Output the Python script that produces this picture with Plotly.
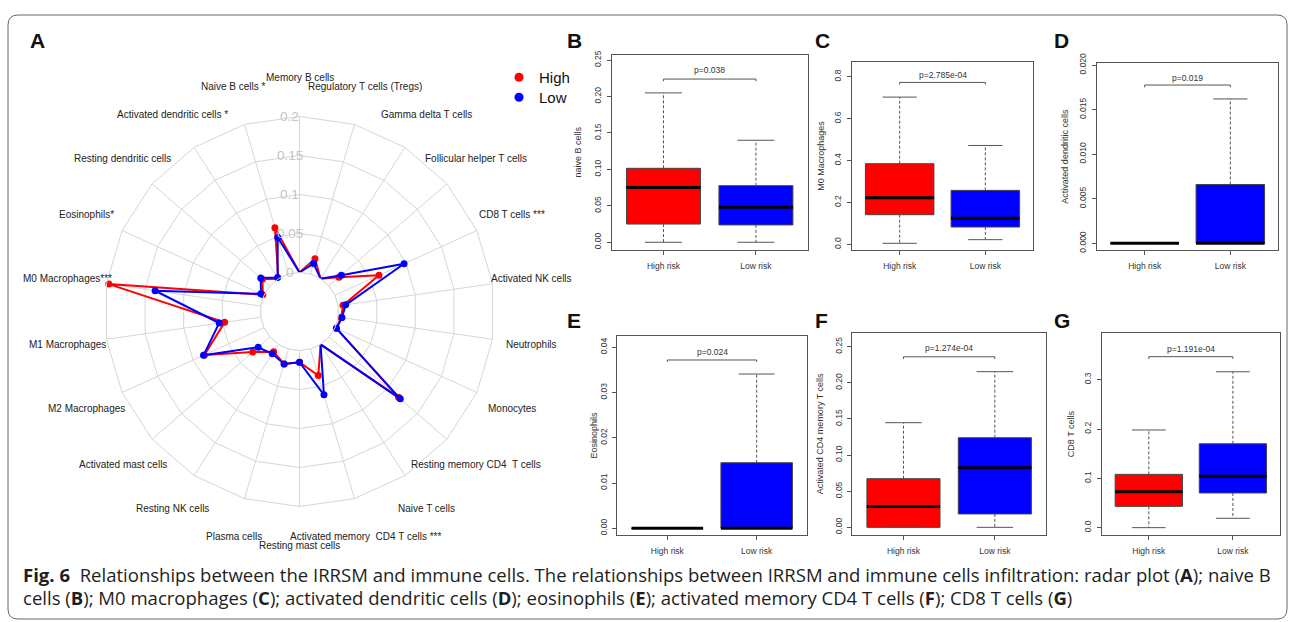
import math
import plotly.graph_objects as go

W, H = 1296, 622

# ---------------- data: radar (clockwise from top) ----------------
radar_categories = [
    "Memory B cells", "Regulatory T cells (Tregs)", "Gamma delta T cells",
    "Follicular helper T cells", "CD8 T cells ***", "Activated NK cells",
    "Neutrophils", "Monocytes", "Resting memory CD4\u00a0 T cells", "Naive T cells",
    "Activated memory\u00a0 CD4 T cells ***", "Resting mast cells", "Plasma cells",
    "Resting NK cells", "Activated mast cells", "M2 Macrophages", "M1 Macrophages",
    "M0 Macrophages***", "Eosinophils*", "Resting dendritic cells",
    "Activated dendritic cells *", "Naive B cells *",
]
radar_high = [0.0, 0.0205, 0.0, 0.017, 0.062, 0.0064, 0.004, 0.002, 0.118, 0.0,
              0.0355, 0.015, 0.020, 0.0114, 0.0293, 0.084, 0.047, 0.197, 0.0016,
              0.013, 0.0, 0.062]
radar_low = [0.0, 0.014, 0.0, 0.021, 0.0974, 0.0098, 0.005, 0.002, 0.121, 0.0,
             0.0613, 0.015, 0.020, 0.0145, 0.020, 0.0853, 0.054, 0.137, 0.0044,
             0.0157, 0.002, 0.049]
radar_ticks = [0, 0.05, 0.1, 0.15, 0.2]
radar_tick_text = ["0", "0.05", "0.1", "0.15", "0.2"]

# ---------------- data: box plots [min, q1, median, q3, max] ----------------
groups = ["High risk", "Low risk"]
group_pos = [1, 2]

naive_b_high = [0.0, 0.025, 0.075, 0.1015, 0.205]
naive_b_low = [0.0, 0.0238, 0.048, 0.0777, 0.140]
m0_high = [0.005, 0.1416, 0.2227, 0.385, 0.703]
m0_low = [0.0223, 0.0827, 0.124, 0.2577, 0.472]
adc_high = [0.0, 0.0, 0.0, 0.0, 0.0]
adc_low = [0.0, 0.0, 0.0, 0.0066, 0.0162]
eos_high = [0.0, 0.0, 0.0, 0.0, 0.0]
eos_low = [0.0, 0.0, 0.0, 0.0145, 0.0341]
cd4_high = [0.0, 0.0, 0.029, 0.0673, 0.1448]
cd4_low = [0.0, 0.0185, 0.0826, 0.124, 0.2154]
cd8_high = [0.0, 0.0432, 0.073, 0.108, 0.198]
cd8_low = [0.019, 0.0703, 0.104, 0.170, 0.316]

p_texts = ["p=0.038", "p=2.785e-04", "p=0.019", "p=0.024", "p=1.274e-04", "p=1.191e-04"]
# bracket: [tick end, bar, text]
brackets = [
    [0.221, 0.224, 0.236],
    [0.763, 0.773, 0.808],
    [0.0175, 0.01776, 0.01858],
    [0.0368, 0.0372, 0.0389],
    [0.233, 0.236, 0.2477],
    [0.342, 0.3466, 0.363],
]
y_titles = ["naive B cells", "M0 Macrophages", "Activated dendritic cells",
            "Eosinophils", "Activated CD4 memory T cells", "CD8 T cells"]
y_ranges = [[-0.0106, 0.257], [-0.027, 0.872], [-0.00075, 0.0202],
            [-0.00147, 0.0425], [-0.0106, 0.2685], [-0.0149, 0.394]]
y_tickvals = [[0, 0.05, 0.10, 0.15, 0.20, 0.25], [0, 0.2, 0.4, 0.6, 0.8],
              [0, 0.005, 0.010, 0.015, 0.020], [0, 0.01, 0.02, 0.03, 0.04],
              [0, 0.05, 0.10, 0.15, 0.20, 0.25], [0, 0.1, 0.2, 0.3]]
y_ticktext = [["0.00", "0.05", "0.10", "0.15", "0.20", "0.25"],
              ["0.0", "0.2", "0.4", "0.6", "0.8"],
              ["0.000", "0.005", "0.010", "0.015", "0.020"],
              ["0.00", "0.01", "0.02", "0.03", "0.04"],
              ["0.00", "0.05", "0.10", "0.15", "0.20", "0.25"],
              ["0.0", "0.1", "0.2", "0.3"]]
panel_letters = ["B", "C", "D", "E", "F", "G"]

# ---------------- layout geometry (pixels) ----------------
frames_px = [  # left, right, top, bottom
    (611.7, 807.7, 55, 250),
    (851.7, 1033.3, 61.7, 250),
    (1096.7, 1278.3, 63.3, 250),
    (617.3, 806.7, 336, 535),
    (852.3, 1046, 333.3, 535),
    (1101.7, 1280, 333.3, 535),
]
ytitle_x_px = [578, 821, 1065, 593, 820, 1071]
letter_px = [(565, 40), (813, 40), (1052, 40), (565, 320), (813, 320), (1052, 320)]

RED = "#ff0000"
BLUE = "#0000ff"
FONT = "Liberation Sans, Arial, sans-serif"
GRID = "#d6d6d6"

fig = go.Figure()

# ---------------- radar ----------------
cx, cy, R, hole = 299.5, 311.5, 195.0, 0.2
label_factor = 1.2

# inner (zero) ring of the radar grid
fig.add_trace(go.Scatterpolar(
    r=[radar_ticks[0]] * (len(radar_categories) + 1),
    theta=radar_categories + radar_categories[:1], mode="lines",
    line=dict(color=GRID, width=1), showlegend=False, hoverinfo="skip", subplot="polar"))

for vals, col in [(radar_high, RED), (radar_low, BLUE)]:
    fig.add_trace(go.Scatterpolar(
        r=vals + vals[:1], theta=radar_categories + radar_categories[:1],
        mode="lines+markers", line=dict(color=col, width=2),
        marker=dict(color=col, size=7), showlegend=False, hoverinfo="skip",
        subplot="polar"))

# legend entries
for col, name, lg in [(RED, "High", "legend"), (BLUE, "Low", "legend2")]:
    fig.add_trace(go.Scatter(x=[None], y=[None], mode="markers", name=name, legend=lg,
                             marker=dict(color=col, size=9), xaxis="x", yaxis="y"))

annotations = []
shapes = []

n = len(radar_categories)
for k, lab in enumerate(radar_categories):
    ang = 2 * math.pi * k / n
    annotations.append(dict(
        x=(cx + label_factor * R * math.sin(ang)) / W,
        y=1 - (cy - label_factor * R * math.cos(ang)) / H,
        xref="paper", yref="paper", text=lab, showarrow=False,
        xanchor="center", yanchor="middle",
        font=dict(family=FONT, size=10, color="#222")))

for v, t in zip(radar_ticks, radar_tick_text):
    rpx = R * (hole + (1 - hole) * v / radar_ticks[-1])
    annotations.append(dict(
        x=(cx - 0.05 * R) / W, y=1 - (cy - rpx) / H, xref="paper", yref="paper",
        text=t, showarrow=False, xanchor="center", yanchor="middle",
        font=dict(family=FONT, size=13.5, color="#c4c4c4")))

# ---------------- box plots ----------------
stats = [(naive_b_high, naive_b_low), (m0_high, m0_low), (adc_high, adc_low),
         (eos_high, eos_low), (cd4_high, cd4_low), (cd8_high, cd8_low)]

layout_axes = {}
for i, (hi, lo) in enumerate(stats):
    k = "" if i == 0 else str(i + 1)
    xa, ya = "x" + k, "y" + k
    for pos, s, col in [(group_pos[0], hi, RED), (group_pos[1], lo, BLUE)]:
        mn, q1, med, q3, mx = s
        fig.add_trace(go.Box(
            x=[pos], q1=[q1], median=[med], q3=[q3], lowerfence=[q1], upperfence=[q3],
            width=0.8, fillcolor=col, line=dict(color="#444", width=1),
            whiskerwidth=0, boxpoints=False, showlegend=False, hoverinfo="skip",
            xaxis=xa, yaxis=ya))
        fig.add_trace(go.Scatter(
            x=[pos, pos, None, pos, pos], y=[q3, mx, None, q1, mn], mode="lines",
            line=dict(color="#555", width=1, dash="3px,2px"), showlegend=False,
            hoverinfo="skip", xaxis=xa, yaxis=ya))
        fig.add_trace(go.Scatter(
            x=[pos - 0.2, pos + 0.2, None, pos - 0.2, pos + 0.2],
            y=[mx, mx, None, mn, mn], mode="lines",
            line=dict(color="#555", width=1), showlegend=False,
            hoverinfo="skip", xaxis=xa, yaxis=ya))
        fig.add_trace(go.Scatter(
            x=[pos - 0.4, pos + 0.4], y=[med, med], mode="lines",
            line=dict(color="#000", width=3), showlegend=False,
            hoverinfo="skip", xaxis=xa, yaxis=ya))
    tk, bar, ty = brackets[i]
    fig.add_trace(go.Scatter(
        x=[group_pos[0], group_pos[0], group_pos[1], group_pos[1]], y=[tk, bar, bar, tk],
        mode="lines", line=dict(color="#555", width=1), showlegend=False,
        hoverinfo="skip", xaxis=xa, yaxis=ya))
    annotations.append(dict(x=sum(group_pos) / 2, y=ty, xref=xa, yref=ya, text=p_texts[i],
                            showarrow=False, xanchor="center", yanchor="middle",
                            font=dict(family=FONT, size=8.5, color="#333")))

    l, r_, t, b = frames_px[i]
    common = dict(showline=True, mirror=True, linecolor="#555", linewidth=1,
                  showgrid=False, zeroline=False, ticks="outside", ticklen=4,
                  tickcolor="#555", automargin=False,
                  tickfont=dict(family=FONT, size=8.5, color="#333"))
    layout_axes["xaxis" + k] = dict(domain=[l / W, r_ / W], range=[0.44, 2.56],
                                    tickvals=group_pos, ticktext=groups, anchor=ya,
                                    ticklabelstandoff=4, **common)
    layout_axes["yaxis" + k] = dict(domain=[1 - b / H, 1 - t / H], range=y_ranges[i],
                                    tickvals=y_tickvals[i], ticktext=y_ticktext[i],
                                    tickangle=-90, anchor=xa, ticklabelstandoff=2, **common)
    annotations.append(dict(x=ytitle_x_px[i] / W, y=1 - (t + b) / 2 / H, xref="paper",
                            yref="paper", text=y_titles[i], textangle=-90, showarrow=False,
                            xanchor="center", yanchor="middle",
                            font=dict(family=FONT, size=9, color="#333")))
    lx, ly = letter_px[i]
    annotations.append(dict(x=lx / W, y=1 - ly / H, xref="paper", yref="paper",
                            text="<b>%s</b>" % panel_letters[i], showarrow=False,
                            xanchor="left", yanchor="middle",
                            font=dict(family=FONT, size=21, color="#111")))

annotations.append(dict(x=28 / W, y=1 - 40 / H, xref="paper", yref="paper", text="<b>A</b>",
                        showarrow=False, xanchor="left", yanchor="middle",
                        font=dict(family=FONT, size=21, color="#111")))

# caption
CAP = "Open Sans, Noto Sans, sans-serif"
annotations.append(dict(
    x=21 / W, y=1 - 574 / H, xref="paper", yref="paper", xanchor="left", yanchor="middle",
    showarrow=False, font=dict(family=CAP, size=18.55, color="#1e1e1e"),
    text="<b>Fig. 6</b>\u00a0\u00a0Relationships between the IRRSM and immune cells. The relationships "
         "between IRRSM and immune cells infiltration: radar plot (<b>A</b>); naive B"))
annotations.append(dict(
    x=21 / W, y=1 - 597 / H, xref="paper", yref="paper", xanchor="left", yanchor="middle",
    showarrow=False, font=dict(family=CAP, size=18.55, color="#1e1e1e"),
    text="cells (<b>B</b>); M0 macrophages (<b>C</b>); activated dendritic cells (<b>D</b>); "
         "eosinophils (<b>E</b>); activated memory CD4 T cells (<b>F</b>); CD8 T cells (<b>G</b>)"))

# rounded frame
L, Rr, T, B, rad = 8, 1287, 15, 619, 10
def px(x):
    return x / W
def py(y):
    return 1 - y / H
path = (f"M {px(L+rad)} {py(T)} L {px(Rr-rad)} {py(T)} Q {px(Rr)} {py(T)} {px(Rr)} {py(T+rad)} "
        f"L {px(Rr)} {py(B-rad)} Q {px(Rr)} {py(B)} {px(Rr-rad)} {py(B)} "
        f"L {px(L+rad)} {py(B)} Q {px(L)} {py(B)} {px(L)} {py(B-rad)} "
        f"L {px(L)} {py(T+rad)} Q {px(L)} {py(T)} {px(L+rad)} {py(T)} Z")
shapes.append(dict(type="path", path=path, xref="paper", yref="paper",
                   line=dict(color="#666", width=1)))

legend_common = dict(xanchor="left", yanchor="top", bgcolor="rgba(0,0,0,0)",
                     font=dict(family=FONT, size=15, color="#111"), itemclick=False)

fig.update_layout(
    width=W, height=H, autosize=False,
    margin=dict(l=0, r=0, t=0, b=0, pad=0, autoexpand=False),
    paper_bgcolor="white", plot_bgcolor="white",
    polar=dict(
        domain=dict(x=[(cx - R) / W, (cx + R) / W], y=[1 - (cy + R) / H, 1 - (cy - R) / H]),
        hole=hole, gridshape="linear", bgcolor="white",
        angularaxis=dict(type="category", categoryorder="array", categoryarray=radar_categories,
                         direction="clockwise", rotation=90, showticklabels=False, ticks="",
                         showline=True, linecolor=GRID, gridcolor=GRID, gridwidth=1),
        radialaxis=dict(range=[radar_ticks[0], radar_ticks[-1]], tickvals=radar_ticks,
                        showticklabels=False, ticks="", showline=False,
                        gridcolor=GRID, gridwidth=1),
    ),
    legend=dict(x=499 / W, y=1 - 61 / H, **legend_common),
    legend2=dict(x=499 / W, y=1 - 81 / H, **legend_common),
    annotations=annotations, shapes=shapes, showlegend=True,
    **layout_axes,
)

fig.write_html("out.html", config={"displayModeBar": False},
               post_script="document.body.style.margin='0';document.body.style.padding='0';")
